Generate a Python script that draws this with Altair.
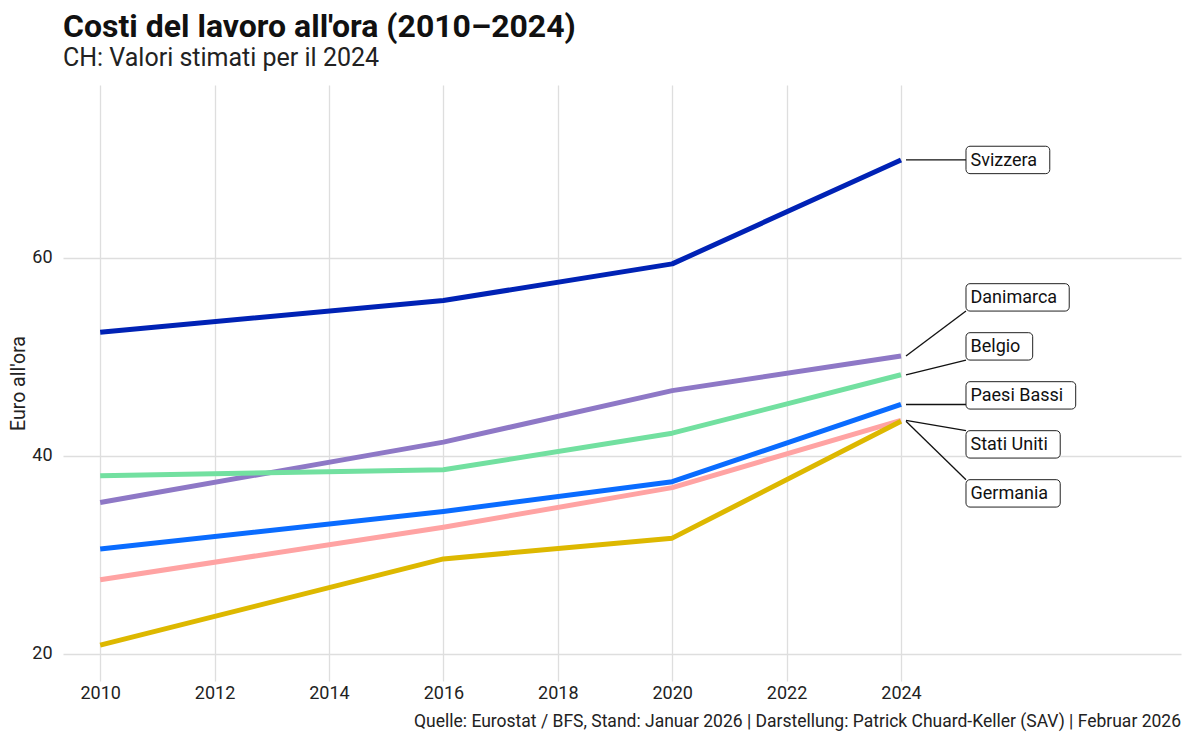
import altair as alt
import pandas as pd

# ---------------- data ----------------
years = [2010, 2016, 2020, 2024]
countries = ["Svizzera", "Danimarca", "Belgio", "Paesi Bassi", "Stati Uniti", "Germania"]
svizzera = [52.5, 55.7, 59.4, 69.9]
danimarca = [35.3, 41.4, 46.6, 50.1]
belgio = [38.0, 38.6, 42.3, 48.2]
paesi_bassi = [30.6, 34.4, 37.4, 45.2]
stati_uniti = [27.5, 32.8, 36.8, 43.6]
germania = [20.9, 29.6, 31.7, 43.5]
colors = ["#0022B5", "#8E78C6", "#72E0A0", "#0A6CFF", "#FFA3A3", "#DDB800"]
x_ticks = [2010, 2012, 2014, 2016, 2018, 2020, 2022, 2024]
y_ticks = [20, 40, 60]

title = "Costi del lavoro all'ora (2010\u20132024)"
subtitle = "CH: Valori stimati per il 2024"
y_title = "Euro all'ora"
caption = "Quelle: Eurostat / BFS, Stand: Januar 2026 | Darstellung: Patrick Chuard-Keller (SAV) | Februar 2026"

series = [svizzera, danimarca, belgio, paesi_bassi, stati_uniti, germania]

# ---------------- layout ----------------
W, H = 1118, 596
x_dom = [2009.35, 2028.895]
y_dom = [17.27, 77.47]
ppy = W / (x_dom[1] - x_dom[0])      # px per year
ppu = H / (y_dom[1] - y_dom[0])      # px per euro
FONT = "Roboto"
LABEL_SIZE = 18

rows = []
for c, s in zip(countries, series):
    for yr, v in zip(years, s):
        rows.append({"country": c, "year": yr, "value": v})
df = pd.DataFrame(rows)

# --- simple label repel (cluster-centred, fixed gap) ---
end_vals = {c: s[-1] for c, s in zip(countries, series)}
gap = 49 / ppu
order = sorted(countries, key=lambda c: -end_vals[c])
clusters = [[c] for c in order]


def cl_pos(cl):
    m = sum(end_vals[c] for c in cl) / len(cl)
    k = len(cl)
    return [m + ((k - 1) / 2 - j) * gap for j in range(k)]


merged = True
while merged:
    merged = False
    for i in range(len(clusters) - 1):
        a, b = cl_pos(clusters[i]), cl_pos(clusters[i + 1])
        if a[-1] - b[0] < gap:
            clusters[i] = clusters[i] + clusters[i + 1]
            del clusters[i + 1]
            merged = True
            break
label_y = {}
for cl in clusters:
    for c, p in zip(cl, cl_pos(cl)):
        label_y[c] = p

cw = {'S': .59, 'v': .49, 'i': .24, 'z': .49, 'e': .53, 'r': .34, 'a': .54, 'D': .65,
      'n': .55, 'm': .87, 'c': .52, 'B': .62, 'l': .24, 'g': .56, 'o': .57, 'P': .63,
      's': .52, ' ': .25, 't': .33, 'U': .65, 'G': .68}

box_left = 2024 + 65 / ppy
half_h = 13.7 / ppu
lab_rows = []
for c in countries:
    tw = sum(cw.get(ch, .55) for ch in c) * LABEL_SIZE
    ly = label_y[c]
    ev = end_vals[c]
    lab_rows.append({
        "country": c,
        "ly": ly,
        "ly0": ly - half_h,
        "ly1": ly + half_h,
        "bx0": box_left,
        "bx1": box_left + (tw + 17) / ppy,
        "tx": box_left + 4.5 / ppy,
        "sx": 2024 + 5 / ppy,
        "sy": ev,
        "ey": min(max(ev, ly - half_h), ly + half_h),
    })
lab = pd.DataFrame(lab_rows)

xs = alt.Scale(domain=x_dom, nice=False, zero=False)
ys = alt.Scale(domain=y_dom, nice=False, zero=False)

base_x = alt.X("year:Q", scale=xs, title=None,
               axis=alt.Axis(values=x_ticks, format="d", grid=True, domain=False, ticks=False,
                             labelPadding=3, labelFontSize=18, labelFont=FONT, labelColor="#222"))
base_y = alt.Y("value:Q", scale=ys, title=y_title,
               axis=alt.Axis(values=y_ticks, grid=True, domain=False, ticks=False,
                             labelPadding=11, labelFontSize=18, labelFont=FONT, labelColor="#222",
                             titleFontSize=19.5, titleFont=FONT, titleFontWeight="normal",
                             titleColor="#222", titlePadding=3))

layers = []
for c, col in zip(countries, colors):
    layers.append(
        alt.Chart(df).transform_filter(alt.datum.country == c)
        .mark_line(color=col, strokeWidth=5, strokeCap="butt", strokeJoin="round")
        .encode(x=base_x, y=base_y)
    )

seg = alt.Chart(lab).mark_rule(color="#111", strokeWidth=1.3).encode(
    x=alt.X("sx:Q", scale=xs), y=alt.Y("sy:Q", scale=ys),
    x2="bx0:Q", y2="ey:Q")
box = alt.Chart(lab).mark_rect(fill="white", stroke="#222", strokeWidth=1, cornerRadius=4).encode(
    x=alt.X("bx0:Q", scale=xs), x2="bx1:Q",
    y=alt.Y("ly0:Q", scale=ys), y2="ly1:Q")
txt = alt.Chart(lab).mark_text(align="left", baseline="middle", font=FONT, fontSize=LABEL_SIZE,
                               color="#111", dy=1).encode(
    x=alt.X("tx:Q", scale=xs), y=alt.Y("ly:Q", scale=ys), text="country:N")
cap = alt.Chart(pd.DataFrame({"t": [caption]})).mark_text(
    align="right", baseline="alphabetic", font=FONT, fontSize=17.5, color="#222").encode(
    x=alt.value(W), y=alt.value(H + 642 - 596), text="t:N")

chart = alt.layer(*layers, seg, box, txt, cap).properties(
    width=W, height=H,
    autosize=alt.AutoSizeParams(type="none"),
    padding={"left": 55, "top": 77, "right": 2, "bottom": 51},
    title=alt.TitleParams(text=title, subtitle=subtitle, anchor="start", frame="group",
                          font=FONT, fontSize=32, fontWeight="bold", color="#111",
                          subtitleFont=FONT, subtitleFontSize=25, subtitleColor="#222",
                          subtitlePadding=2, offset=13),
).configure_view(stroke=None).configure_axis(gridColor="#DEDEDE", gridWidth=1.3)

chart.save("out.html", embed_options={"renderer": "svg", "actions": False})
